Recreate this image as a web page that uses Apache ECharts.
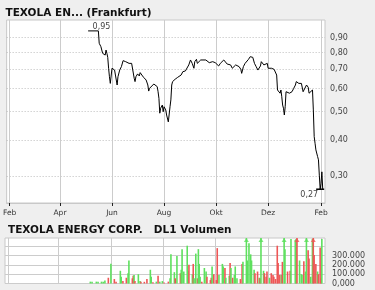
<!DOCTYPE html>
<html><head><meta charset="utf-8">
<script src="https://cdn.jsdelivr.net/npm/echarts@6/dist/echarts.min.js"></script>
<style>html,body{margin:0;padding:0;background:#efefef}#c{width:375px;height:290px}</style>
</head><body><div id="c"></div>
<script>
// ---- price series (Frankfurt) ----
const priceDates = [
'2013-05-04','2013-05-16','2013-05-17','2013-05-19','2013-05-21','2013-05-22','2013-05-24','2013-05-25','2013-05-26','2013-05-27',
'2013-05-28','2013-05-29','2013-05-30','2013-06-01','2013-06-02','2013-06-04','2013-06-05','2013-06-07','2013-06-08','2013-06-10',
'2013-06-12','2013-06-14','2013-06-15','2013-06-17','2013-06-19','2013-06-21','2013-06-24','2013-06-26','2013-06-27','2013-06-28',
'2013-06-29','2013-07-01','2013-07-03','2013-07-04','2013-07-06','2013-07-08','2013-07-10','2013-07-11','2013-07-13','2013-07-14',
'2013-07-15','2013-07-17','2013-07-20','2013-07-21','2013-07-24','2013-07-25','2013-07-26','2013-07-27','2013-07-28','2013-07-30',
'2013-07-31','2013-08-01','2013-08-03','2013-08-04','2013-08-06','2013-08-07','2013-08-08','2013-08-09','2013-08-10','2013-08-11',
'2013-08-13','2013-08-14','2013-08-16','2013-08-17','2013-08-19','2013-08-21','2013-08-23','2013-08-26','2013-08-30','2013-09-01',
'2013-09-03','2013-09-05','2013-09-06','2013-09-08','2013-09-09','2013-09-11','2013-09-13','2013-09-15','2013-09-19','2013-09-23',
'2013-09-25','2013-09-27','2013-09-28','2013-09-30','2013-10-02','2013-10-04','2013-10-06','2013-10-08','2013-10-10','2013-10-12',
'2013-10-14','2013-10-16','2013-10-18','2013-10-20','2013-10-22','2013-10-24','2013-10-26','2013-10-28','2013-10-30','2013-10-31',
'2013-11-02','2013-11-04','2013-11-06','2013-11-08','2013-11-10','2013-11-12','2013-11-13','2013-11-15','2013-11-17','2013-11-19',
'2013-11-21','2013-11-22','2013-11-23','2013-11-25','2013-11-26','2013-11-28','2013-11-30','2013-12-01','2013-12-02','2013-12-05',
'2013-12-06','2013-12-08','2013-12-10','2013-12-11','2013-12-12','2013-12-13','2013-12-14','2013-12-15','2013-12-16','2013-12-17',
'2013-12-18','2013-12-19','2013-12-20','2013-12-21','2013-12-22','2013-12-24','2013-12-26','2013-12-28','2013-12-29','2013-12-31',
'2014-01-02','2014-01-03','2014-01-05','2014-01-06','2014-01-08','2014-01-09','2014-01-11','2014-01-13','2014-01-15','2014-01-17',
'2014-01-18','2014-01-19','2014-01-20','2014-01-22','2014-01-23','2014-01-24','2014-01-25','2014-01-26','2014-01-28','2014-01-29',
'2014-01-30','2014-01-31','2014-02-01','2014-02-02','2014-02-03'];
const priceValues = [
0.95,0.95,0.861,0.838,0.795,0.805,0.784,0.816,0.795,0.770,
0.706,0.660,0.626,0.706,0.715,0.696,0.669,0.618,0.660,0.696,
0.715,0.750,0.758,0.744,0.744,0.734,0.734,0.725,0.652,0.635,
0.660,0.675,0.664,0.682,0.669,0.657,0.652,0.643,0.618,0.589,
0.602,0.610,0.623,0.618,0.610,0.586,0.556,0.494,0.514,0.527,
0.500,0.520,0.507,0.487,0.461,0.468,0.520,0.549,0.618,0.635,
0.643,0.647,0.652,0.657,0.647,0.669,0.687,0.691,0.725,0.754,
0.734,0.706,0.744,0.758,0.734,0.725,0.754,0.758,0.754,0.738,
0.730,0.744,0.734,0.738,0.730,0.719,0.734,0.744,0.754,0.744,
0.730,0.734,0.725,0.706,0.696,0.725,0.730,0.715,0.700,0.678,
0.715,0.734,0.744,0.758,0.774,0.784,0.770,0.734,0.715,0.696,
0.687,0.719,0.744,0.744,0.725,0.725,0.734,0.706,0.715,0.706,
0.715,0.700,0.696,0.669,0.594,0.586,0.602,0.579,0.594,0.563,
0.527,0.514,0.487,0.520,0.586,0.581,0.579,0.574,0.586,0.602,
0.618,0.635,0.643,0.626,0.618,0.626,0.586,0.594,0.618,0.607,
0.579,0.586,0.579,0.594,0.507,0.410,0.389,0.369,0.350,0.341,
0.302,0.27,0.283,0.310,0.27];

// ---- volume series (DL1) ----
const volDates = [
'2013-05-08','2013-05-10','2013-05-15','2013-05-17','2013-05-21','2013-05-23','2013-05-25','2013-05-29','2013-06-01','2013-06-05',
'2013-06-07','2013-06-12','2013-06-13','2013-06-15','2013-06-19','2013-06-21','2013-06-22','2013-06-26','2013-06-27','2013-06-28',
'2013-06-29','2013-07-03','2013-07-05','2013-07-06','2013-07-10','2013-07-13','2013-07-17','2013-07-18','2013-07-20','2013-07-24',
'2013-07-26','2013-07-28','2013-07-31','2013-08-02','2013-08-07','2013-08-09','2013-08-10','2013-08-14','2013-08-15','2013-08-17',
'2013-08-21','2013-08-22','2013-08-23','2013-08-25','2013-08-29','2013-08-30','2013-08-31','2013-09-04','2013-09-05','2013-09-06',
'2013-09-08','2013-09-10','2013-09-11','2013-09-12','2013-09-13','2013-09-15','2013-09-18','2013-09-20','2013-09-21','2013-09-25',
'2013-09-26','2013-09-27','2013-09-29','2013-10-02','2013-10-03','2013-10-05','2013-10-09','2013-10-10','2013-10-12','2013-10-13',
'2013-10-17','2013-10-18','2013-10-19','2013-10-21','2013-10-23','2013-10-24','2013-10-26','2013-10-30','2013-11-01','2013-11-02',
'2013-11-06','2013-11-07','2013-11-09','2013-11-11','2013-11-12','2013-11-15','2013-11-16','2013-11-19','2013-11-21','2013-11-22',
'2013-11-23','2013-11-26','2013-11-27','2013-11-29','2013-11-30','2013-12-03','2013-12-05','2013-12-07','2013-12-08','2013-12-10',
'2013-12-12','2013-12-13','2013-12-15','2013-12-17','2013-12-18','2013-12-20','2013-12-21','2013-12-24','2013-12-27','2013-12-28',
'2014-01-02','2014-01-03','2014-01-04','2014-01-07','2014-01-09','2014-01-11','2014-01-12','2014-01-14','2014-01-15','2014-01-17',
'2014-01-18','2014-01-20','2014-01-22','2014-01-23','2014-01-24','2014-01-26','2014-01-28','2014-01-29','2014-01-31','2014-02-01',
'2014-02-02'];
const volValues = [
20000,20000,20000,20000,20000,20000,33000,62000,214000,48000,
20000,137000,73000,26000,62000,111000,248000,56000,84000,92000,
26000,100000,26000,20000,18000,48000,148000,73000,14000,20000,
84000,20000,26000,11000,20000,56000,314000,122000,56000,296000,
111000,148000,370000,129000,407000,137000,203000,100000,211000,56000,
322000,56000,370000,211000,73000,18000,167000,129000,73000,37000,
62000,184000,100000,37000,381000,92000,211000,184000,167000,62000,
84000,222000,167000,62000,92000,184000,56000,48000,211000,233000,
600000,248000,433000,314000,248000,148000,111000,129000,62000,56000,
600000,137000,111000,73000,129000,62000,111000,92000,73000,48000,
407000,222000,92000,92000,233000,600000,370000,129000,137000,480000,
470000,480000,600000,248000,100000,92000,240000,129000,600000,359000,
270000,73000,481000,600000,307000,211000,129000,100000,389000,56000,
480000];
const volUp = [
1,1,1,1,1,1,1,0,1,0,
0,1,1,0,0,1,1,0,0,1,
0,1,1,0,0,0,1,1,0,1,
0,1,1,0,0,1,1,1,0,1,
0,1,1,1,1,1,0,1,0,1,
1,0,1,1,1,0,1,1,0,0,
0,1,0,0,0,1,1,1,0,1,
1,0,1,0,1,1,1,0,0,1,
1,1,1,1,1,1,0,0,1,0,
1,1,0,0,0,1,0,0,0,0,
0,0,0,1,0,1,1,0,0,1,
1,1,0,1,1,1,0,1,1,0,
0,1,1,0,0,0,1,0,0,0,
1];

// ---- axes ----
const monthNames = ['Jan','Feb','Mär','Apr','Mai','Jun','Jul','Aug','Sep','Okt','Nov','Dez'];
const xTickDates = ['2013-02-01','2013-04-01','2013-06-01','2013-08-01','2013-10-01','2013-12-01','2014-02-01'];
const priceTicks = [0.3,0.4,0.5,0.6,0.7,0.8,0.9];
const volLabelTicks = [0,100000,200000,300000];
const volGridTicks = [0,100000,200000,300000,400000];

const ts = s => { const p = s.split('-').map(Number); return new Date(p[0], p[1] - 1, p[2]).getTime(); };
const X_MIN = new Date(2013,0,28,12).getTime();
const X_MAX = new Date(2014,1,5,16).getTime();
const P_MIN = 0.242, P_MAX = 1.036;
const VOL_MAX = 490000;
const GREEN = '#5ee05e', RED = '#ee5656';
const FONT = 'DejaVu Sans';
const lg = Math.log10;
const fmtPrice = v => Math.pow(10, v).toFixed(2).replace('.', ',');
const xTicks = xTickDates.map(ts);

const chart = echarts.init(document.getElementById('c'), null, {renderer: 'canvas'});
chart.setOption({
  animation: false,
  backgroundColor: '#efefef',
  graphic: [
    {type: 'text', x: 5.5, y: 12.8, style: {text: 'TEXOLA EN... (Frankfurt)', font: 'bold 10.5px "DejaVu Sans"', fill: '#111', verticalAlign: 'middle'}},
    {type: 'text', x: 8, y: 229.8, style: {text: 'TEXOLA ENERGY CORP.   DL1 Volumen', font: 'bold 10.5px "DejaVu Sans"', fill: '#111', verticalAlign: 'middle'}}
  ],
  grid: [
    {left: 5, right: 50, top: 20, bottom: 87, show: true, backgroundColor: '#fff', borderColor: '#c8c8c8', borderWidth: 1},
    {left: 5, right: 50, top: 238, bottom: 6.5, show: true, backgroundColor: '#fff', borderColor: '#c8c8c8', borderWidth: 1}
  ],
  xAxis: [
    {type: 'value', gridIndex: 0, min: X_MIN, max: X_MAX, scale: true, position: 'bottom',
     axisLine: {show: true, onZero: false, lineStyle: {color: '#c8c8c8'}},
     axisTick: {show: true, customValues: xTicks, length: 3, lineStyle: {color: '#222'}},
     axisLabel: {customValues: xTicks, fontSize: 7.5, fontFamily: FONT, color: '#333', margin: 6,
       formatter: v => monthNames[new Date(v).getMonth()]},
     splitLine: {show: true, lineStyle: {color: '#cccccc', width: 1}}},
    {type: 'value', gridIndex: 1, min: X_MIN, max: X_MAX, scale: true, position: 'bottom',
     axisLine: {show: false, onZero: false},
     axisTick: {show: false, customValues: xTicks},
     axisLabel: {show: false},
     splitLine: {show: true, lineStyle: {color: '#cccccc', width: 1}}}
  ],
  yAxis: [
    {type: 'value', gridIndex: 0, position: 'right', min: lg(P_MIN), max: lg(P_MAX),
     axisLine: {show: false, onZero: false},
     axisTick: {show: false, customValues: priceTicks.map(lg)},
     axisLabel: {customValues: priceTicks.map(lg), formatter: fmtPrice, fontSize: 8, fontFamily: FONT, color: '#444', margin: 5},
     splitLine: {show: true, lineStyle: {color: '#bdbdbd', type: [1, 2], width: 1}}},
    {type: 'value', gridIndex: 1, position: 'right', min: 0, max: VOL_MAX,
     axisLine: {show: false, onZero: false},
     axisTick: {show: false, customValues: volGridTicks},
     axisLabel: {customValues: volLabelTicks, fontSize: 8, fontFamily: FONT, color: '#444', margin: 7,
       formatter: v => v === 0 ? '0,000' : (v / 1000) + '.000'},
     splitLine: {show: true, lineStyle: {color: '#cccccc', width: 1}}}
  ],
  series: [
    {type: 'line', xAxisIndex: 0, yAxisIndex: 0, symbol: 'none', showSymbol: false,
     lineStyle: {color: '#000', width: 1},
     data: priceDates.map((d, i) => [ts(d), lg(priceValues[i])]),
     markPoint: {
       silent: true, animation: false,
       data: [
         {type: 'max', symbol: 'rect', symbolSize: [1, 1], itemStyle: {color: 'rgba(0,0,0,0)'},
          label: {show: true, position: 'right', distance: 4, offset: [0, -4], formatter: p => fmtPrice(p.value),
                  fontSize: 8, fontFamily: FONT, color: '#444'}},
         {type: 'min', symbol: 'rect', symbolSize: [8, 1.5], itemStyle: {color: '#000'},
          label: {show: true, position: 'left', distance: 0, offset: [2, 6], formatter: p => fmtPrice(p.value),
                  fontSize: 8, fontFamily: FONT, color: '#444'}}
       ]
     }},
    {type: 'bar', xAxisIndex: 1, yAxisIndex: 1, barWidth: 1.6, clip: true,
     data: volDates.map((d, i) => ({value: [ts(d), volValues[i]], itemStyle: {color: volUp[i] ? GREEN : RED}}))},
    {type: 'scatter', xAxisIndex: 1, yAxisIndex: 1, symbol: 'triangle', symbolSize: [5, 4], symbolOffset: [0, 2], silent: true,
     data: volDates.map((d, i) => volValues[i] > VOL_MAX ? {value: [ts(d), VOL_MAX], itemStyle: {color: volUp[i] ? GREEN : RED}} : null).filter(Boolean)}
  ]
});
</script>
</body></html>
